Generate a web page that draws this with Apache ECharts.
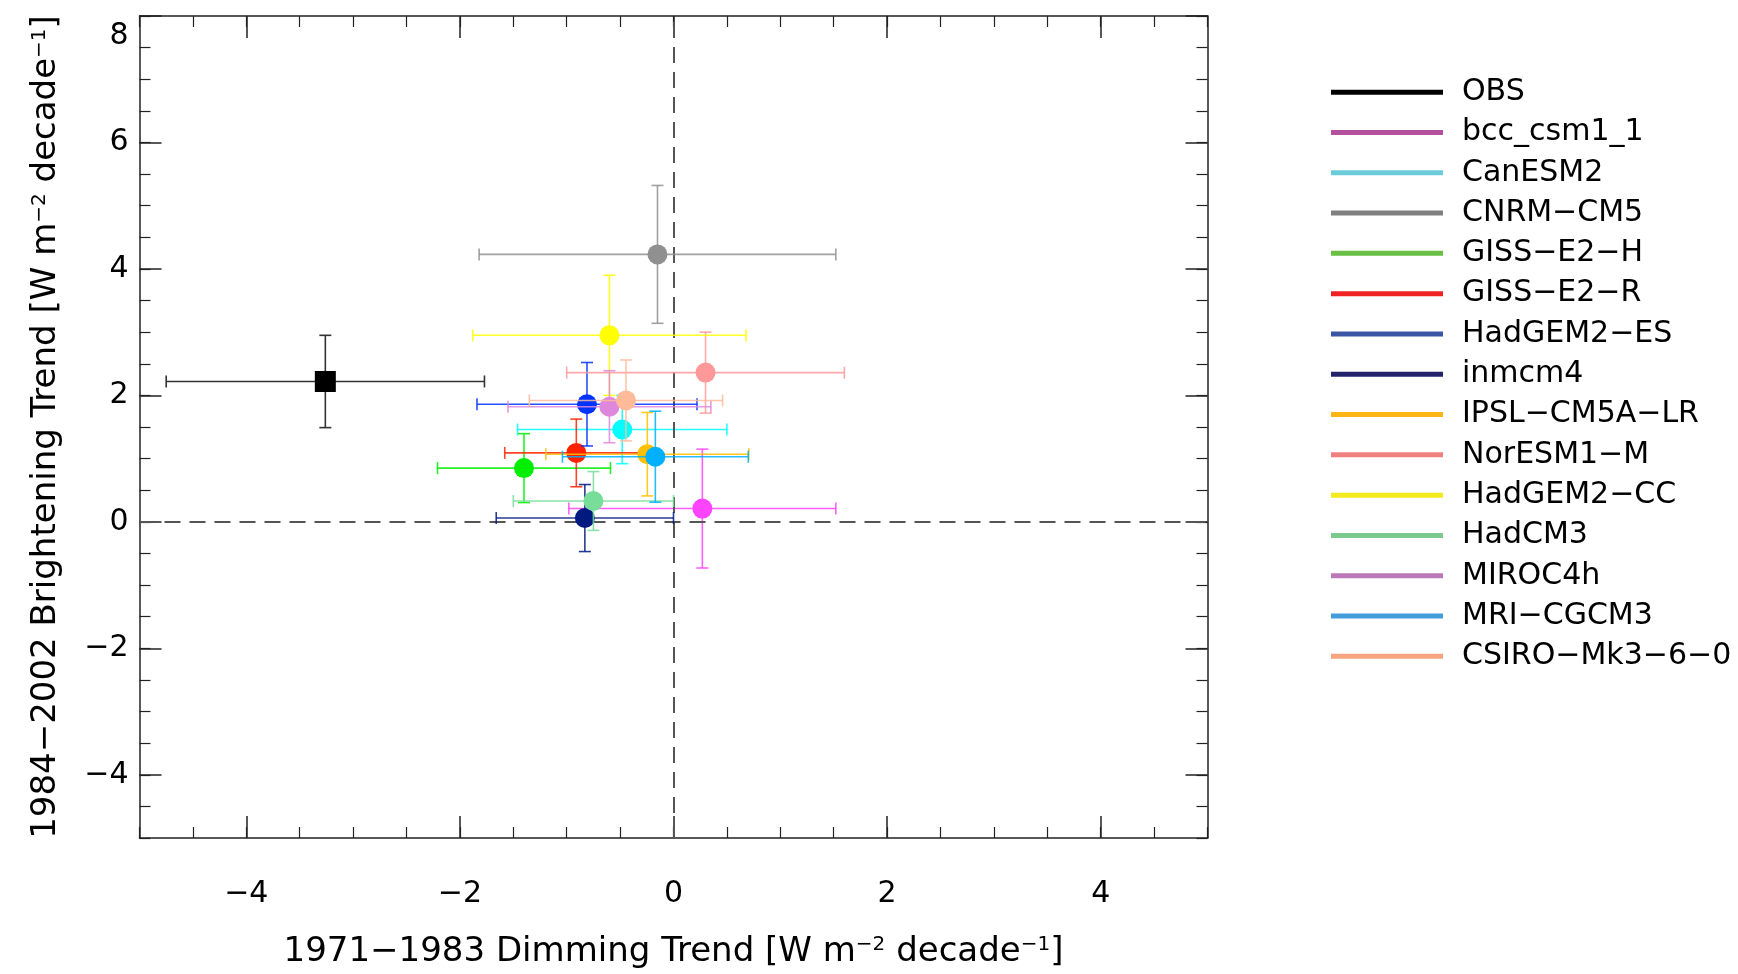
<!DOCTYPE html>
<html>
<head>
<meta charset="utf-8">
<script src="https://cdn.jsdelivr.net/npm/echarts@6/dist/echarts.min.js"></script>
<style>
  html, body { margin: 0; padding: 0; background: #fff; width: 1738px; height: 974px; overflow: hidden; }
  #chart { width: 1738px; height: 974px; overflow: hidden; }
</style>
</head>
<body>
<div id="chart"></div>
<script>
// ---------------- DATA ----------------
const models = ['OBS','bcc_csm1_1','CanESM2','CNRM-CM5','GISS-E2-H','GISS-E2-R','HadGEM2-ES','inmcm4','IPSL-CM5A-LR','NorESM1-M','HadGEM2-CC','HadCM3','MIROC4h','MRI-CGCM3','CSIRO-Mk3-6-0'];
const dimmingTrend     = [-3.26, 0.27, -0.48, -0.15, -1.40, -0.91, -0.81, -0.83, -0.245, 0.30, -0.60, -0.75, -0.60, -0.17, -0.445];
const brighteningTrend = [ 2.22, 0.21,  1.46,  4.23,  0.85,  1.09,  1.86,  0.06,  1.07,  2.36,  2.95,  0.33,  1.82,  1.03,  1.92];
const dimmingErr       = [ 1.49, 1.25,  0.98,  1.67,  0.81,  0.67,  1.03,  0.83,  0.95,  1.30,  1.28,  0.75,  0.95,  0.87,  0.905];
const brighteningErr   = [ 0.73, 0.94,  0.54,  1.09,  0.545, 0.535, 0.66,  0.53,  0.66,  0.64,  0.95,  0.465, 0.57,  0.72,  0.64];
const xTicks = [-4, -2, 0, 2, 4];
const yTicks = [-4, -2, 0, 2, 4, 6, 8];

// ---------------- STYLE ----------------
const markerColors = ['#000000','#ff44ff','#00ffff','#909090','#00ee00','#ff2200','#0033ff','#001a80','#ffc000','#ff9999','#ffff00','#77dd99','#dd88dd','#00b0ff','#ffbb99'];
const legendColors = ['#000000','#b5509e','#6ccbd9','#808080','#6abf45','#ee2222','#3a55a4','#23236a','#fbb616','#f07f7f','#f3eb1e','#7ec98e','#bb77b8','#439bd8','#f6a57f'];
const FONT = 'DejaVu Sans';

function fmt(v) { return v < 0 ? '\u2212' + Math.abs(v) : String(v); }

function renderItem(params, api) {
  const x = api.value(0), y = api.value(1), xe = api.value(2), ye = api.value(3);
  const c = api.coord([x, y]);
  const l = api.coord([x - xe, y]), r = api.coord([x + xe, y]);
  const t = api.coord([x, y + ye]), b = api.coord([x, y - ye]);
  const isObs = params.seriesName === 'OBS';
  const color = markerColors[params.seriesIndex - 1];
  const barColor = isObs ? '#333333' : color;
  const cap = 6;
  const ls = { stroke: barColor, lineWidth: 1.6, opacity: isObs ? 1 : 0.85 };
  const children = [
    { type: 'line', shape: { x1: l[0], y1: l[1], x2: r[0], y2: r[1] }, style: ls },
    { type: 'line', shape: { x1: l[0], y1: l[1] - cap, x2: l[0], y2: l[1] + cap }, style: ls },
    { type: 'line', shape: { x1: r[0], y1: r[1] - cap, x2: r[0], y2: r[1] + cap }, style: ls },
    { type: 'line', shape: { x1: t[0], y1: t[1], x2: b[0], y2: b[1] }, style: ls },
    { type: 'line', shape: { x1: t[0] - cap, y1: t[1], x2: t[0] + cap, y2: t[1] }, style: ls },
    { type: 'line', shape: { x1: b[0] - cap, y1: b[1], x2: b[0] + cap, y2: b[1] }, style: ls }
  ];
  if (isObs) {
    children.push({ type: 'rect', shape: { x: c[0] - 10.5, y: c[1] - 10.5, width: 21, height: 21 }, style: { fill: color } });
  } else {
    children.push({ type: 'circle', shape: { cx: c[0], cy: c[1], r: 10 }, style: { fill: color } });
  }
  return { type: 'group', children };
}

const axisLineStyle = { color: '#222', width: 1.5 };
const labelStyle = { fontFamily: FONT, fontSize: 30, color: '#000' };

const nameRich = {
  sup: { fontFamily: FONT, fontSize: 20, verticalAlign: 'top', lineHeight: 20, color: '#000' }
};

function majorX(pos, withLabels) {
  return {
    type: 'value', position: pos, min: -5, max: 5, gridIndex: 0,
    axisLine: { show: true, onZero: false, lineStyle: axisLineStyle },
    axisTick: { show: true, inside: true, length: 22, customValues: xTicks, lineStyle: { color: '#222', width: 1.5 } },
    axisLabel: withLabels ? { show: true, customValues: xTicks, margin: 41, formatter: fmt, ...labelStyle } : { show: false },
    splitLine: { show: false },
    name: withLabels ? '1971\u22121983 Dimming Trend [W m{sup|\u22122} decade{sup|\u22121}]' : '',
    nameLocation: 'middle', nameGap: 97,
    nameTextStyle: { fontFamily: FONT, fontSize: 34, color: '#000', rich: nameRich }
  };
}
function minorX(pos) {
  return {
    type: 'value', position: pos, min: -5, max: 5, interval: 0.5, gridIndex: 0,
    axisLine: { show: false, onZero: false },
    axisTick: { show: true, inside: true, length: 11, lineStyle: { color: '#222', width: 1.2 } },
    axisLabel: { show: false }, splitLine: { show: false }
  };
}
function majorY(pos, withLabels) {
  return {
    type: 'value', position: pos, min: -5, max: 8, gridIndex: 0,
    axisLine: { show: true, onZero: false, lineStyle: axisLineStyle },
    axisTick: { show: true, inside: true, length: 22, customValues: yTicks, lineStyle: { color: '#222', width: 1.5 } },
    axisLabel: withLabels ? {
      show: true, customValues: yTicks, margin: 11,
      formatter: v => v === 8 ? '{top|8}' : fmt(v),
      rich: { top: { padding: [40, 0, 0, 0], fontFamily: FONT, fontSize: 30, color: '#000' } },
      ...labelStyle
    } : { show: false },
    splitLine: { show: false },
    name: withLabels ? '1984\u22122002 Brightening Trend [W m{sup|\u22122} decade{sup|\u22121}]' : '',
    nameLocation: 'middle', nameGap: 76, nameRotate: 90,
    nameTextStyle: { fontFamily: FONT, fontSize: 34, color: '#000', rich: nameRich }
  };
}
function minorY(pos) {
  return {
    type: 'value', position: pos, min: -5, max: 8, interval: 0.5, gridIndex: 0,
    axisLine: { show: false, onZero: false },
    axisTick: { show: true, inside: true, length: 11, lineStyle: { color: '#222', width: 1.2 } },
    axisLabel: { show: false }, splitLine: { show: false }
  };
}

const series = [{
  type: 'line', name: '_zero', data: [], xAxisIndex: 0, yAxisIndex: 0, silent: true, z: 1,
  markLine: {
    silent: true, symbol: 'none', label: { show: false },
    lineStyle: { color: '#555', type: [16, 9], width: 2 },
    data: [{ xAxis: 0 }, { yAxis: 0 }],
    animation: false
  }
}];
models.forEach((m, i) => {
  series.push({
    type: 'custom', name: m, xAxisIndex: 0, yAxisIndex: 0, z: 2 + i,
    renderItem,
    itemStyle: { color: legendColors[i] },
    encode: { x: 0, y: 1 },
    data: [[dimmingTrend[i], brighteningTrend[i], dimmingErr[i], brighteningErr[i]]]
  });
});

const chart = echarts.init(document.getElementById('chart'), null, { renderer: 'canvas' });
chart.setOption({
  animation: false,
  backgroundColor: '#fff',
  grid: { left: 139.5, top: 16, width: 1068, height: 824, containLabel: false },
  xAxis: [majorX('bottom', true), minorX('bottom'), majorX('top', false), minorX('top')],
  yAxis: [majorY('left', true), minorY('left'), majorY('right', false), minorY('right')],
  legend: {
    orient: 'vertical', left: 1326, top: 67,
    icon: 'rect', itemWidth: 112, itemHeight: 5, itemGap: 0,
    formatter: name => name.replace(/-/g, '\u2212'),
    textStyle: { fontFamily: FONT, fontSize: 30, color: '#000', lineHeight: 40.3, padding: [0, 0, 0, 14] },
    data: models.map((m, i) => ({ name: m, itemStyle: { color: legendColors[i] } })),
    selectedMode: false
  },
  series
});
</script>
</body>
</html>
